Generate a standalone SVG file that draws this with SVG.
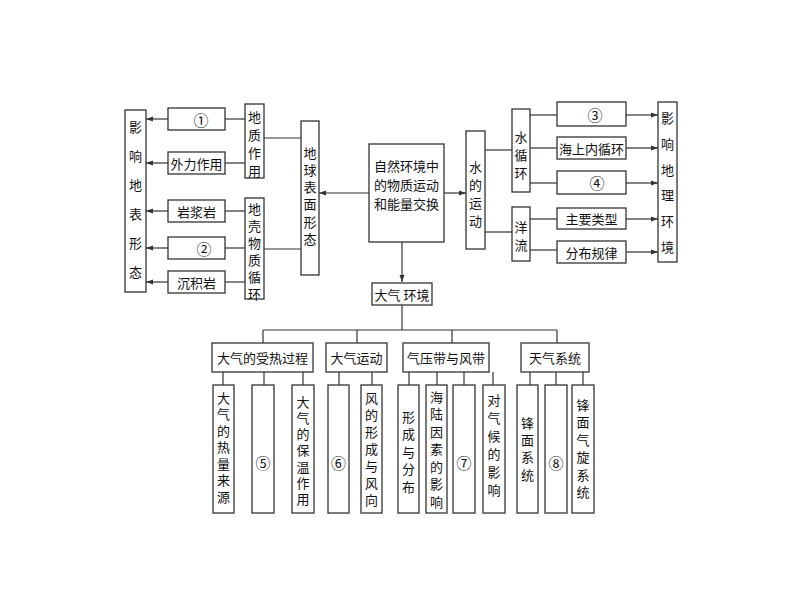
<svg xmlns="http://www.w3.org/2000/svg" width="800" height="600" viewBox="0 0 800 600">
<defs>
<marker id="ah" markerWidth="7" markerHeight="6" refX="7" refY="3" orient="auto" markerUnits="userSpaceOnUse">
<path d="M0,0.5 L7,3 L0,5.5 Z" fill="#333"/>
</marker>
<style>
rect{fill:#fff;stroke:#333;stroke-width:1.3}
text{font-family:"Noto Sans CJK SC","Noto Sans",sans-serif;font-size:13px;fill:#111;text-anchor:middle;dominant-baseline:central}
text.v{writing-mode:vertical-rl}
text.n{font-size:15px}
.c line{stroke:#333;stroke-width:1.2;fill:none}
.a{marker-end:url(#ah)}
</style>
</defs>
<rect x="0" y="0" width="800" height="600" style="fill:#fff;stroke:none"/>
<g class="c" id="connectors">
<line class="a" x1="168" y1="119" x2="146" y2="119"/>
<line class="a" x1="168" y1="163" x2="146" y2="163"/>
<line class="a" x1="168" y1="211" x2="146" y2="211"/>
<line class="a" x1="168" y1="248" x2="146" y2="248"/>
<line class="a" x1="168" y1="282" x2="146" y2="282"/>
<line x1="225" y1="119" x2="245" y2="119"/>
<line x1="225" y1="163" x2="245" y2="163"/>
<line x1="225" y1="211" x2="245" y2="211"/>
<line x1="225" y1="248" x2="245" y2="248"/>
<line x1="225" y1="282" x2="245" y2="282"/>
<line x1="264" y1="138" x2="301" y2="138"/>
<line x1="264" y1="249" x2="301" y2="249"/>
<line class="a" x1="369" y1="193" x2="319" y2="193"/>
<line class="a" x1="444" y1="193" x2="466" y2="193"/>
<line class="a" x1="402" y1="242" x2="402" y2="282"/>
<line x1="485" y1="150" x2="512" y2="150"/>
<line x1="485" y1="232" x2="512" y2="232"/>
<line x1="530" y1="115" x2="557" y2="115"/>
<line x1="530" y1="148" x2="557" y2="148"/>
<line x1="530" y1="183" x2="557" y2="183"/>
<line x1="530" y1="219" x2="557" y2="219"/>
<line x1="530" y1="250" x2="557" y2="250"/>
<line class="a" x1="626" y1="115" x2="658" y2="115"/>
<line class="a" x1="626" y1="148" x2="658" y2="148"/>
<line class="a" x1="626" y1="183" x2="658" y2="183"/>
<line class="a" x1="626" y1="219" x2="658" y2="219"/>
<line class="a" x1="626" y1="252" x2="658" y2="252"/>
<line x1="402" y1="305" x2="402" y2="330"/>
<line x1="263" y1="330" x2="557" y2="330"/>
<line x1="263" y1="330" x2="263" y2="343"/>
<line x1="357" y1="330" x2="357" y2="343"/>
<line x1="452" y1="330" x2="452" y2="343"/>
<line x1="557" y1="330" x2="557" y2="343"/>
<line x1="223" y1="372" x2="223" y2="385"/>
<line x1="264" y1="372" x2="264" y2="385"/>
<line x1="303" y1="372" x2="303" y2="385"/>
<line x1="339" y1="372" x2="339" y2="385"/>
<line x1="372" y1="372" x2="372" y2="385"/>
<line x1="409" y1="372" x2="409" y2="385"/>
<line x1="437" y1="372" x2="437" y2="385"/>
<line x1="464" y1="372" x2="464" y2="385"/>
<line x1="493" y1="372" x2="493" y2="385"/>
<line x1="530" y1="372" x2="530" y2="385"/>
<line x1="556" y1="372" x2="556" y2="385"/>
<line x1="583" y1="372" x2="583" y2="385"/>
</g>
<g id="n-yingxiang-dibiao"><rect x="125" y="110" width="21" height="182"/><text class="v" x="135.5" y="207.5" letter-spacing="16">影响地表形态</text></g>
<g id="n-1"><rect x="168" y="108" width="57" height="22"/><text class="n" x="201" y="119">①</text></g>
<g id="n-waili"><rect x="168" y="152" width="57" height="22"/><text x="196.5" y="163">外力作用</text></g>
<g id="n-yanjiang"><rect x="168" y="200" width="57" height="22"/><text x="196.5" y="211">岩浆岩</text></g>
<g id="n-2"><rect x="168" y="237" width="57" height="22"/><text class="n" x="204" y="248">②</text></g>
<g id="n-chenji"><rect x="168" y="271" width="57" height="22"/><text x="196.5" y="282">沉积岩</text></g>
<g id="n-dizhi"><rect x="245" y="104" width="19" height="74"/><text class="v" x="254.5" y="146.5" letter-spacing="5">地质作用</text></g>
<g id="n-diqiao"><rect x="245" y="198" width="19" height="101"/><text class="v" x="254.5" y="253.5" letter-spacing="4">地壳物质循环</text></g>
<g id="n-diqiu"><rect x="301" y="121" width="18" height="154"/><text class="v" x="310" y="198" letter-spacing="4.2">地球表面形态</text></g>
<g id="n-center"><rect x="369" y="144" width="75" height="98"/>
<text x="406.5" y="165">自然环境中</text><text x="406.5" y="184">的物质运动</text><text x="406.5" y="203">和能量交换</text></g>
<g id="n-shui"><rect x="466" y="131" width="19" height="118"/><text class="v" x="475.5" y="196.5" letter-spacing="5">水的运动</text></g>
<g id="n-shuixunhuan"><rect x="512" y="109" width="18" height="83"/><text class="v" x="521" y="157.5" letter-spacing="5">水循环</text></g>
<g id="n-yangliu"><rect x="512" y="207" width="18" height="54"/><text class="v" x="521" y="238.5" letter-spacing="5">洋流</text></g>
<g id="n-3"><rect x="557" y="102" width="69" height="24"/><text class="n" x="595" y="114">③</text></g>
<g id="n-haishang"><rect x="557" y="137" width="69" height="22"/><text x="591.5" y="148">海上内循环</text></g>
<g id="n-4"><rect x="557" y="171" width="69" height="23"/><text class="n" x="597" y="182.5">④</text></g>
<g id="n-zhuyao"><rect x="557" y="208" width="69" height="21"/><text x="591.5" y="218.5">主要类型</text></g>
<g id="n-fenbu"><rect x="557" y="241" width="69" height="22"/><text x="591.5" y="252">分布规律</text></g>
<g id="n-yingxiang-dili"><rect x="658" y="102" width="19" height="160"/><text class="v" x="667.5" y="189" letter-spacing="12.8">影响地理环境</text></g>
<g id="n-daqi"><rect x="372" y="283" width="60" height="22"/><text x="402" y="294">大气 环境</text></g>
<g id="n-shoure"><rect x="212" y="343" width="101" height="29"/><text x="262.5" y="357.5">大气的受热过程</text></g>
<g id="n-yundong"><rect x="326" y="343" width="61" height="29"/><text x="356.5" y="357.5">大气运动</text></g>
<g id="n-qiya"><rect x="403" y="343" width="86" height="29"/><text x="446" y="357.5">气压带与风带</text></g>
<g id="n-tianqi"><rect x="521" y="343" width="68" height="29"/><text x="555" y="357.5">天气系统</text></g>
<g id="n-reliang"><rect x="213" y="385" width="21" height="128"/><text class="v" x="223.5" y="449.2" letter-spacing="3.5">大气的热量来源</text></g>
<g id="n-5"><rect x="252" y="385" width="22" height="128"/><text class="n" x="263" y="462">⑤</text></g>
<g id="n-baowen"><rect x="292" y="385" width="22" height="128"/><text class="v" x="303" y="452" letter-spacing="3.2">大气的保温作用</text></g>
<g id="n-6"><rect x="328" y="385" width="21" height="128"/><text class="n" x="338.5" y="462">⑥</text></g>
<g id="n-feng"><rect x="361" y="385" width="21" height="128"/><text class="v" x="371.5" y="451" letter-spacing="4">风的形成与风向</text></g>
<g id="n-xingcheng"><rect x="398" y="385" width="21" height="128"/><text class="v" x="408.5" y="454.2" letter-spacing="4.5">形成与分布</text></g>
<g id="n-hailu"><rect x="426" y="385" width="21" height="128"/><text class="v" x="436.5" y="451.7" letter-spacing="4.5">海陆因素的影响</text></g>
<g id="n-7"><rect x="453" y="385" width="22" height="128"/><text class="n" x="464" y="462">⑦</text></g>
<g id="n-qihou"><rect x="483" y="385" width="22" height="128"/><text class="v" x="494" y="447.5" letter-spacing="5">对气候的影响</text></g>
<g id="n-fengmian"><rect x="517" y="385" width="21" height="128"/><text class="v" x="527.5" y="451" letter-spacing="4.3">锋面系统</text></g>
<g id="n-8"><rect x="545" y="385" width="22" height="128"/><text class="n" x="556" y="462">⑧</text></g>
<g id="n-qixuan"><rect x="572" y="385" width="22" height="128"/><text class="v" x="583" y="450.7" letter-spacing="4.4">锋面气旋系统</text></g>
</svg>
